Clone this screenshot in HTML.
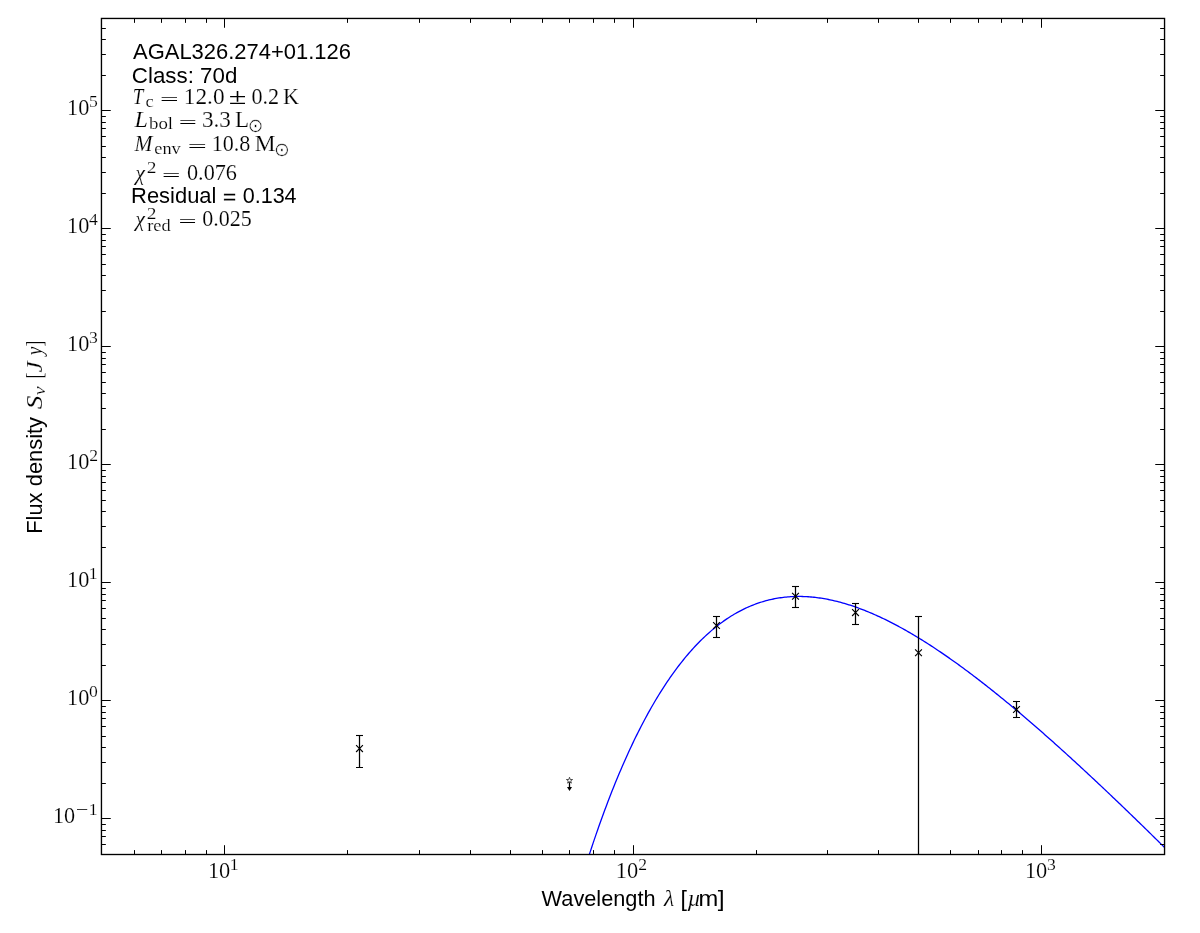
<!DOCTYPE html>
<html lang="en"><head><meta charset="utf-8"><title>AGAL326.274+01.126 SED</title>
<style>
html,body{margin:0;padding:0;background:#fff;}
body{width:1200px;height:933px;overflow:hidden;}
svg{display:block;will-change:transform;}
text{fill:#000;}
.sans{font-family:"Liberation Sans",sans-serif;}
.rm{font-family:"Liberation Serif",serif;}
.it{font-style:italic;}
.sun{font-family:"DejaVu Sans",sans-serif;}
.thin{stroke:#fff;stroke-width:0.16px;}
.bold{stroke:#000;stroke-width:0.35px;}
.thin2{stroke:#fff;stroke-width:0.45px;}
</style></head><body>
<svg width="1200" height="933" viewBox="0 0 1200 933">
<rect width="1200" height="933" fill="#fff"/>

<defs><clipPath id="ax"><rect x="101.45" y="18.45" width="1063.1" height="836.05"/></clipPath></defs>
<g clip-path="url(#ax)">
<path d="M586.00,864.79 L587.45,860.25 L588.90,855.76 L590.36,851.33 L591.81,846.95 L593.26,842.62 L594.71,838.34 L596.16,834.11 L597.62,829.93 L599.07,825.80 L600.52,821.73 L601.97,817.70 L603.42,813.72 L604.87,809.79 L606.33,805.91 L607.78,802.07 L609.23,798.29 L610.68,794.55 L612.13,790.86 L613.59,787.21 L615.04,783.61 L616.49,780.06 L617.94,776.55 L619.39,773.08 L620.85,769.66 L622.30,766.29 L623.75,762.96 L625.20,759.67 L626.65,756.42 L628.10,753.22 L629.56,750.06 L631.01,746.94 L632.46,743.86 L633.91,740.83 L635.36,737.84 L636.82,734.88 L638.27,731.97 L639.72,729.10 L641.17,726.26 L642.62,723.47 L644.08,720.71 L645.53,718.00 L646.98,715.32 L648.43,712.68 L649.88,710.08 L651.33,707.51 L652.79,704.98 L654.24,702.49 L655.69,700.04 L657.14,697.62 L658.59,695.24 L660.05,692.89 L661.50,690.58 L662.95,688.31 L664.40,686.06 L665.85,683.86 L667.31,681.69 L668.76,679.55 L670.21,677.44 L671.66,675.37 L673.11,673.33 L674.56,671.33 L676.02,669.35 L677.47,667.41 L678.92,665.51 L680.37,663.63 L681.82,661.78 L683.28,659.97 L684.73,658.19 L686.18,656.44 L687.63,654.71 L689.08,653.02 L690.54,651.36 L691.99,649.73 L693.44,648.13 L694.89,646.56 L696.34,645.01 L697.79,643.50 L699.25,642.01 L700.70,640.55 L702.15,639.12 L703.60,637.72 L705.05,636.35 L706.51,635.00 L707.96,633.68 L709.41,632.39 L710.86,631.12 L712.31,629.88 L713.77,628.67 L715.22,627.48 L716.67,626.32 L718.12,625.18 L719.57,624.07 L721.02,622.98 L722.48,621.92 L723.93,620.89 L725.38,619.88 L726.83,618.89 L728.28,617.93 L729.74,616.99 L731.19,616.07 L732.64,615.18 L734.09,614.31 L735.54,613.47 L737.00,612.65 L738.45,611.85 L739.90,611.07 L741.35,610.32 L742.80,609.58 L744.25,608.87 L745.71,608.19 L747.16,607.52 L748.61,606.87 L750.06,606.25 L751.51,605.65 L752.97,605.07 L754.42,604.50 L755.87,603.96 L757.32,603.44 L758.77,602.94 L760.23,602.46 L761.68,602.00 L763.13,601.56 L764.58,601.14 L766.03,600.74 L767.48,600.36 L768.94,599.99 L770.39,599.65 L771.84,599.32 L773.29,599.01 L774.74,598.72 L776.20,598.45 L777.65,598.20 L779.10,597.96 L780.55,597.75 L782.00,597.55 L783.46,597.36 L784.91,597.20 L786.36,597.05 L787.81,596.92 L789.26,596.80 L790.72,596.70 L792.17,596.62 L793.62,596.55 L795.07,596.50 L796.52,596.47 L797.97,596.45 L799.43,596.45 L800.88,596.47 L802.33,596.49 L803.78,596.54 L805.23,596.60 L806.69,596.67 L808.14,596.76 L809.59,596.87 L811.04,596.98 L812.49,597.12 L813.95,597.26 L815.40,597.43 L816.85,597.60 L818.30,597.79 L819.75,597.99 L821.20,598.21 L822.66,598.44 L824.11,598.69 L825.56,598.94 L827.01,599.21 L828.46,599.50 L829.92,599.79 L831.37,600.10 L832.82,600.42 L834.27,600.76 L835.72,601.10 L837.18,601.46 L838.63,601.83 L840.08,602.22 L841.53,602.61 L842.98,603.02 L844.43,603.44 L845.89,603.87 L847.34,604.31 L848.79,604.76 L850.24,605.22 L851.69,605.70 L853.15,606.19 L854.60,606.68 L856.05,607.19 L857.50,607.71 L858.95,608.24 L860.41,608.78 L861.86,609.33 L863.31,609.89 L864.76,610.46 L866.21,611.04 L867.66,611.63 L869.12,612.23 L870.57,612.84 L872.02,613.46 L873.47,614.09 L874.92,614.73 L876.38,615.38 L877.83,616.04 L879.28,616.70 L880.73,617.38 L882.18,618.07 L883.64,618.76 L885.09,619.46 L886.54,620.17 L887.99,620.89 L889.44,621.62 L890.89,622.36 L892.35,623.11 L893.80,623.86 L895.25,624.62 L896.70,625.39 L898.15,626.17 L899.61,626.96 L901.06,627.75 L902.51,628.55 L903.96,629.36 L905.41,630.18 L906.87,631.01 L908.32,631.84 L909.77,632.68 L911.22,633.53 L912.67,634.38 L914.12,635.24 L915.58,636.11 L917.03,636.99 L918.48,637.87 L919.93,638.76 L921.38,639.66 L922.84,640.56 L924.29,641.47 L925.74,642.39 L927.19,643.31 L928.64,644.24 L930.10,645.17 L931.55,646.12 L933.00,647.07 L934.45,648.02 L935.90,648.98 L937.35,649.95 L938.81,650.92 L940.26,651.90 L941.71,652.89 L943.16,653.88 L944.61,654.87 L946.07,655.87 L947.52,656.88 L948.97,657.90 L950.42,658.91 L951.87,659.94 L953.33,660.97 L954.78,662.00 L956.23,663.04 L957.68,664.09 L959.13,665.14 L960.58,666.20 L962.04,667.26 L963.49,668.32 L964.94,669.40 L966.39,670.47 L967.84,671.55 L969.30,672.64 L970.75,673.73 L972.20,674.82 L973.65,675.92 L975.10,677.03 L976.56,678.14 L978.01,679.25 L979.46,680.37 L980.91,681.49 L982.36,682.62 L983.82,683.75 L985.27,684.88 L986.72,686.02 L988.17,687.17 L989.62,688.32 L991.07,689.47 L992.53,690.62 L993.98,691.78 L995.43,692.95 L996.88,694.12 L998.33,695.29 L999.79,696.47 L1001.24,697.65 L1002.69,698.83 L1004.14,700.02 L1005.59,701.21 L1007.05,702.40 L1008.50,703.60 L1009.95,704.80 L1011.40,706.01 L1012.85,707.22 L1014.30,708.43 L1015.76,709.65 L1017.21,710.87 L1018.66,712.09 L1020.11,713.31 L1021.56,714.54 L1023.02,715.78 L1024.47,717.01 L1025.92,718.25 L1027.37,719.49 L1028.82,720.74 L1030.28,721.99 L1031.73,723.24 L1033.18,724.50 L1034.63,725.75 L1036.08,727.01 L1037.53,728.28 L1038.99,729.54 L1040.44,730.81 L1041.89,732.09 L1043.34,733.36 L1044.79,734.64 L1046.25,735.92 L1047.70,737.20 L1049.15,738.49 L1050.60,739.78 L1052.05,741.07 L1053.51,742.36 L1054.96,743.66 L1056.41,744.96 L1057.86,746.26 L1059.31,747.57 L1060.76,748.87 L1062.22,750.18 L1063.67,751.50 L1065.12,752.81 L1066.57,754.13 L1068.02,755.45 L1069.48,756.77 L1070.93,758.09 L1072.38,759.42 L1073.83,760.75 L1075.28,762.08 L1076.74,763.41 L1078.19,764.75 L1079.64,766.08 L1081.09,767.42 L1082.54,768.77 L1083.99,770.11 L1085.45,771.46 L1086.90,772.80 L1088.35,774.15 L1089.80,775.51 L1091.25,776.86 L1092.71,778.22 L1094.16,779.58 L1095.61,780.94 L1097.06,782.30 L1098.51,783.66 L1099.97,785.03 L1101.42,786.40 L1102.87,787.77 L1104.32,789.14 L1105.77,790.51 L1107.22,791.89 L1108.68,793.26 L1110.13,794.64 L1111.58,796.02 L1113.03,797.41 L1114.48,798.79 L1115.94,800.18 L1117.39,801.56 L1118.84,802.95 L1120.29,804.34 L1121.74,805.74 L1123.20,807.13 L1124.65,808.53 L1126.10,809.92 L1127.55,811.32 L1129.00,812.72 L1130.45,814.13 L1131.91,815.53 L1133.36,816.94 L1134.81,818.34 L1136.26,819.75 L1137.71,821.16 L1139.17,822.57 L1140.62,823.98 L1142.07,825.40 L1143.52,826.81 L1144.97,828.23 L1146.43,829.65 L1147.88,831.07 L1149.33,832.49 L1150.78,833.91 L1152.23,835.34 L1153.68,836.76 L1155.14,838.19 L1156.59,839.62 L1158.04,841.05 L1159.49,842.48 L1160.94,843.91 L1162.40,845.34 L1163.85,846.78 L1165.30,848.21" fill="none" stroke="#0000ff" stroke-width="1.3" stroke-linejoin="round"/>
<line x1="359.5" y1="735.5" x2="359.5" y2="767.5" stroke="#000" stroke-width="1.25"/>
<line x1="356.0" y1="735.5" x2="363.0" y2="735.5" stroke="#000" stroke-width="1.1"/>
<line x1="356.0" y1="767.5" x2="363.0" y2="767.5" stroke="#000" stroke-width="1.1"/>
<path d="M356.1,745.2 L362.9,752.0 M356.1,752.0 L362.9,745.2" stroke="#000" stroke-width="1.15" fill="none"/>
<line x1="716.5" y1="616.5" x2="716.5" y2="637.5" stroke="#000" stroke-width="1.25"/>
<line x1="713.0" y1="616.5" x2="720.0" y2="616.5" stroke="#000" stroke-width="1.1"/>
<line x1="713.0" y1="637.5" x2="720.0" y2="637.5" stroke="#000" stroke-width="1.1"/>
<path d="M713.1,622.1 L719.9,628.9 M713.1,628.9 L719.9,622.1" stroke="#000" stroke-width="1.15" fill="none"/>
<line x1="795.5" y1="586.5" x2="795.5" y2="607.5" stroke="#000" stroke-width="1.25"/>
<line x1="792.0" y1="586.5" x2="799.0" y2="586.5" stroke="#000" stroke-width="1.1"/>
<line x1="792.0" y1="607.5" x2="799.0" y2="607.5" stroke="#000" stroke-width="1.1"/>
<path d="M792.1,592.9 L798.9,599.6999999999999 M792.1,599.6999999999999 L798.9,592.9" stroke="#000" stroke-width="1.15" fill="none"/>
<line x1="855.5" y1="603.5" x2="855.5" y2="624.5" stroke="#000" stroke-width="1.25"/>
<line x1="852.0" y1="603.5" x2="859.0" y2="603.5" stroke="#000" stroke-width="1.1"/>
<line x1="852.0" y1="624.5" x2="859.0" y2="624.5" stroke="#000" stroke-width="1.1"/>
<path d="M852.1,609.2 L858.9,616.0 M852.1,616.0 L858.9,609.2" stroke="#000" stroke-width="1.15" fill="none"/>
<line x1="918.5" y1="616.5" x2="918.5" y2="900" stroke="#000" stroke-width="1.25"/>
<line x1="915.0" y1="616.5" x2="922.0" y2="616.5" stroke="#000" stroke-width="1.1"/>
<path d="M915.1,649.3000000000001 L921.9,656.1 M915.1,656.1 L921.9,649.3000000000001" stroke="#000" stroke-width="1.15" fill="none"/>
<line x1="1016.5" y1="701.5" x2="1016.5" y2="717.5" stroke="#000" stroke-width="1.25"/>
<line x1="1013.0" y1="701.5" x2="1020.0" y2="701.5" stroke="#000" stroke-width="1.1"/>
<line x1="1013.0" y1="717.5" x2="1020.0" y2="717.5" stroke="#000" stroke-width="1.1"/>
<path d="M1013.1,706.1 L1019.9,712.9 M1013.1,712.9 L1019.9,706.1" stroke="#000" stroke-width="1.15" fill="none"/>
<path d="M569.50,777.25 L570.23,779.50 L572.59,779.50 L570.68,780.88 L571.41,783.13 L569.50,781.74 L567.59,783.13 L568.32,780.88 L566.41,779.50 L568.77,779.50Z" fill="#fff" stroke="#333" stroke-width="0.85"/>
<line x1="569.5" y1="782.3" x2="569.5" y2="787.6" stroke="#000" stroke-width="1.3"/>
<path d="M567.0,786.9 L572.0,786.9 L569.5,790.9Z" fill="#000"/>
</g>
<path d="M101.5,854.5 v-4.4 M101.5,18.45 v4.4 M134.5,854.5 v-4.4 M134.5,18.45 v4.4 M161.5,854.5 v-4.4 M161.5,18.45 v4.4 M185.5,854.5 v-4.4 M185.5,18.45 v4.4 M206.5,854.5 v-4.4 M206.5,18.45 v4.4 M224.5,854.5 v-9.3 M224.5,18.45 v9.3 M347.5,854.5 v-4.4 M347.5,18.45 v4.4 M419.5,854.5 v-4.4 M419.5,18.45 v4.4 M470.5,854.5 v-4.4 M470.5,18.45 v4.4 M510.5,854.5 v-4.4 M510.5,18.45 v4.4 M542.5,854.5 v-4.4 M542.5,18.45 v4.4 M569.5,854.5 v-4.4 M569.5,18.45 v4.4 M593.5,854.5 v-4.4 M593.5,18.45 v4.4 M614.5,854.5 v-4.4 M614.5,18.45 v4.4 M633.5,854.5 v-9.3 M633.5,18.45 v9.3 M756.5,854.5 v-4.4 M756.5,18.45 v4.4 M827.5,854.5 v-4.4 M827.5,18.45 v4.4 M878.5,854.5 v-4.4 M878.5,18.45 v4.4 M918.5,854.5 v-4.4 M918.5,18.45 v4.4 M950.5,854.5 v-4.4 M950.5,18.45 v4.4 M978.5,854.5 v-4.4 M978.5,18.45 v4.4 M1001.5,854.5 v-4.4 M1001.5,18.45 v4.4 M1022.5,854.5 v-4.4 M1022.5,18.45 v4.4 M1041.5,854.5 v-9.3 M1041.5,18.45 v9.3 M1164.5,854.5 v-4.4 M1164.5,18.45 v4.4 M101.45,854.5 h4.4 M1164.55,854.5 h-4.4 M101.45,844.5 h4.4 M1164.55,844.5 h-4.4 M101.45,836.5 h4.4 M1164.55,836.5 h-4.4 M101.45,830.5 h4.4 M1164.55,830.5 h-4.4 M101.45,824.5 h4.4 M1164.55,824.5 h-4.4 M101.45,818.5 h9.3 M1164.55,818.5 h-9.3 M101.45,783.5 h4.4 M1164.55,783.5 h-4.4 M101.45,762.5 h4.4 M1164.55,762.5 h-4.4 M101.45,747.5 h4.4 M1164.55,747.5 h-4.4 M101.45,736.5 h4.4 M1164.55,736.5 h-4.4 M101.45,726.5 h4.4 M1164.55,726.5 h-4.4 M101.45,718.5 h4.4 M1164.55,718.5 h-4.4 M101.45,712.5 h4.4 M1164.55,712.5 h-4.4 M101.45,706.5 h4.4 M1164.55,706.5 h-4.4 M101.45,700.5 h9.3 M1164.55,700.5 h-9.3 M101.45,665.5 h4.4 M1164.55,665.5 h-4.4 M101.45,644.5 h4.4 M1164.55,644.5 h-4.4 M101.45,629.5 h4.4 M1164.55,629.5 h-4.4 M101.45,618.5 h4.4 M1164.55,618.5 h-4.4 M101.45,608.5 h4.4 M1164.55,608.5 h-4.4 M101.45,600.5 h4.4 M1164.55,600.5 h-4.4 M101.45,594.5 h4.4 M1164.55,594.5 h-4.4 M101.45,588.5 h4.4 M1164.55,588.5 h-4.4 M101.45,582.5 h9.3 M1164.55,582.5 h-9.3 M101.45,547.5 h4.4 M1164.55,547.5 h-4.4 M101.45,526.5 h4.4 M1164.55,526.5 h-4.4 M101.45,511.5 h4.4 M1164.55,511.5 h-4.4 M101.45,500.5 h4.4 M1164.55,500.5 h-4.4 M101.45,490.5 h4.4 M1164.55,490.5 h-4.4 M101.45,482.5 h4.4 M1164.55,482.5 h-4.4 M101.45,476.5 h4.4 M1164.55,476.5 h-4.4 M101.45,470.5 h4.4 M1164.55,470.5 h-4.4 M101.45,464.5 h9.3 M1164.55,464.5 h-9.3 M101.45,429.5 h4.4 M1164.55,429.5 h-4.4 M101.45,408.5 h4.4 M1164.55,408.5 h-4.4 M101.45,393.5 h4.4 M1164.55,393.5 h-4.4 M101.45,382.5 h4.4 M1164.55,382.5 h-4.4 M101.45,372.5 h4.4 M1164.55,372.5 h-4.4 M101.45,364.5 h4.4 M1164.55,364.5 h-4.4 M101.45,358.5 h4.4 M1164.55,358.5 h-4.4 M101.45,352.5 h4.4 M1164.55,352.5 h-4.4 M101.45,346.5 h9.3 M1164.55,346.5 h-9.3 M101.45,311.5 h4.4 M1164.55,311.5 h-4.4 M101.45,290.5 h4.4 M1164.55,290.5 h-4.4 M101.45,275.5 h4.4 M1164.55,275.5 h-4.4 M101.45,264.5 h4.4 M1164.55,264.5 h-4.4 M101.45,254.5 h4.4 M1164.55,254.5 h-4.4 M101.45,246.5 h4.4 M1164.55,246.5 h-4.4 M101.45,240.5 h4.4 M1164.55,240.5 h-4.4 M101.45,234.5 h4.4 M1164.55,234.5 h-4.4 M101.45,228.5 h9.3 M1164.55,228.5 h-9.3 M101.45,193.5 h4.4 M1164.55,193.5 h-4.4 M101.45,172.5 h4.4 M1164.55,172.5 h-4.4 M101.45,157.5 h4.4 M1164.55,157.5 h-4.4 M101.45,146.5 h4.4 M1164.55,146.5 h-4.4 M101.45,136.5 h4.4 M1164.55,136.5 h-4.4 M101.45,128.5 h4.4 M1164.55,128.5 h-4.4 M101.45,122.5 h4.4 M1164.55,122.5 h-4.4 M101.45,116.5 h4.4 M1164.55,116.5 h-4.4 M101.45,110.5 h9.3 M1164.55,110.5 h-9.3 M101.45,75.5 h4.4 M1164.55,75.5 h-4.4 M101.45,54.5 h4.4 M1164.55,54.5 h-4.4 M101.45,39.5 h4.4 M1164.55,39.5 h-4.4 M101.45,28.5 h4.4 M1164.55,28.5 h-4.4 M101.45,18.5 h4.4 M1164.55,18.5 h-4.4" stroke="#000" stroke-width="1.0" fill="none"/>
<rect x="101.45" y="18.45" width="1063.1" height="836.05" fill="none" stroke="#000" stroke-width="1.35"/>
<text class="sans" font-size="22.2" transform="translate(133.00 58.80) scale(0.9897 1.0)">AGAL326.274+01.126</text>
<text class="sans" font-size="22.2" transform="translate(131.87 83.00) scale(1.0061 1.0)">Class: 70d</text>
<text class="rm it thin" font-size="22.2" transform="translate(132.82 103.80) scale(0.8571 1.0)">T</text>
<text class="rm thin" font-size="15.8" transform="translate(145.57 106.80) scale(1.1745 1.0)">c</text>
<text class="rm" font-size="22.2" transform="translate(160.07 104.80) scale(1.4892 0.78)">=</text>
<text class="rm thin" font-size="22.2" transform="translate(183.78 103.80) scale(1.0505 1.0)">12.0</text>
<text class="rm" font-size="22.2" transform="translate(228.73 103.80) scale(1.4458 1.0)">±</text>
<text class="rm thin" font-size="22.2" transform="translate(251.45 103.80) scale(0.9971 1.0)">0.2</text>
<text class="rm thin" font-size="22.2" transform="translate(283.07 103.80) scale(1.0033 1.0)">K</text>
<text class="rm it thin" font-size="22.2" transform="translate(134.57 126.60) scale(1.0826 1.0)">L</text>
<text class="rm thin" font-size="15.8" transform="translate(149.00 129.40) scale(1.1925 1.0)">bol</text>
<text class="rm" font-size="22.2" transform="translate(178.87 127.60) scale(1.4458 0.78)">=</text>
<text class="rm thin" font-size="22.2" transform="translate(201.96 126.60) scale(1.0435 1.0)">3.3</text>
<text class="rm thin" font-size="22.2" transform="translate(235.05 126.60) scale(1.0323 1.0)">L</text>
<text class="sun thin2" font-size="18" transform="translate(247.82 131.70) scale(1.0358 1.07)">⊙</text>
<text class="rm it thin" font-size="22.2" transform="translate(134.54 150.60) scale(0.9722 1.0)">M</text>
<text class="rm thin" font-size="15.8" transform="translate(154.28 153.60) scale(1.1596 1.0)">env</text>
<text class="rm" font-size="22.2" transform="translate(187.79 151.60) scale(1.5181 0.78)">=</text>
<text class="rm thin" font-size="22.2" transform="translate(211.63 150.60) scale(0.9965 1.0)">10.8</text>
<text class="rm thin" font-size="22.2" transform="translate(254.84 150.60) scale(1.0541 1.0)">M</text>
<text class="sun thin2" font-size="18" transform="translate(274.05 155.70) scale(1.0484 1.07)">⊙</text>
<text class="rm it thin" font-size="22.2" transform="translate(135.38 179.95) scale(0.9625 0.93)">χ</text>
<text class="rm thin" font-size="15.8" transform="translate(146.73 173.30) scale(1.2308 1.0)">2</text>
<text class="rm" font-size="22.2" transform="translate(162.04 180.60) scale(1.4747 0.78)">=</text>
<text class="rm thin" font-size="22.2" transform="translate(186.95 179.60) scale(1.0021 1.0)">0.076</text>
<text class="sans" font-size="22.2" transform="translate(131.07 202.90) scale(0.9889 1.0)">Residual</text>
<text class="sans bold" font-size="22.2" transform="translate(222.99 202.70) scale(1.0115 0.8)">=</text>
<text class="sans" font-size="22.2" transform="translate(242.65 202.90) scale(0.9722 1.0)">0.134</text>
<text class="rm it thin" font-size="22.2" transform="translate(135.38 226.05) scale(0.9625 0.93)">χ</text>
<text class="rm thin" font-size="15.8" transform="translate(146.73 219.10) scale(1.2308 1.0)">2</text>
<text class="rm thin" font-size="15.8" transform="translate(147.21 231.30) scale(1.1646 1.0)">red</text>
<text class="rm" font-size="22.2" transform="translate(178.57 226.70) scale(1.4458 0.78)">=</text>
<text class="rm thin" font-size="22.2" transform="translate(202.26 225.70) scale(0.9922 1.0)">0.025</text>
<text class="rm thin" font-size="22.2" transform="translate(52.92 823.10) scale(1.0000 1.0)">10</text>
<text class="rm" font-size="16.3" transform="translate(75.69 815.10) scale(1.3508 1.0)">−</text>
<text class="rm thin" font-size="16.3" transform="translate(88.84 815.10) scale(1.0800 1.0)">1</text>
<text class="rm thin" font-size="22.2" transform="translate(67.02 705.10) scale(1.0051 1.0)">10</text>
<text class="rm thin" font-size="16.3" transform="translate(89.11 697.10) scale(1.0800 1.0)">0</text>
<text class="rm thin" font-size="22.2" transform="translate(67.02 587.10) scale(1.0051 1.0)">10</text>
<text class="rm thin" font-size="16.3" transform="translate(88.84 579.10) scale(1.0800 1.0)">1</text>
<text class="rm thin" font-size="22.2" transform="translate(67.02 469.10) scale(1.0051 1.0)">10</text>
<text class="rm thin" font-size="16.3" transform="translate(89.25 461.10) scale(1.0800 1.0)">2</text>
<text class="rm thin" font-size="22.2" transform="translate(67.02 351.10) scale(1.0051 1.0)">10</text>
<text class="rm thin" font-size="16.3" transform="translate(89.05 343.10) scale(1.0800 1.0)">3</text>
<text class="rm thin" font-size="22.2" transform="translate(67.02 233.10) scale(1.0051 1.0)">10</text>
<text class="rm thin" font-size="16.3" transform="translate(89.11 225.10) scale(1.0800 1.0)">4</text>
<text class="rm thin" font-size="22.2" transform="translate(67.02 115.10) scale(1.0051 1.0)">10</text>
<text class="rm thin" font-size="16.3" transform="translate(88.98 107.10) scale(1.0800 1.0)">5</text>
<text class="rm thin" font-size="22.2" transform="translate(207.91 878.00) scale(1.0103 1.0)">10</text>
<text class="rm thin" font-size="16.3" transform="translate(229.84 870.00) scale(1.0800 1.0)">1</text>
<text class="rm thin" font-size="22.2" transform="translate(615.81 878.00) scale(1.0103 1.0)">10</text>
<text class="rm thin" font-size="16.3" transform="translate(638.15 870.00) scale(1.0800 1.0)">2</text>
<text class="rm thin" font-size="22.2" transform="translate(1024.91 878.00) scale(1.0103 1.0)">10</text>
<text class="rm thin" font-size="16.3" transform="translate(1047.05 870.00) scale(1.0800 1.0)">3</text>
<text class="sans" font-size="22.2" transform="translate(541.58 905.80) scale(0.9793 1.0)">Wavelength</text>
<text class="rm it thin" font-size="22.2" transform="translate(663.97 905.80) scale(1.0667 1.0)">λ</text>
<text class="sans" font-size="22.2" transform="translate(680.43 905.80) scale(1.0444 1.0)">[</text>
<text class="rm it thin" font-size="22.2" transform="translate(687.23 905.80) scale(1.0759 1.0)">µ</text>
<text class="sans" font-size="22.2" transform="translate(698.40 905.80) scale(1.0688 1.0)">m</text>
<text class="sans" font-size="22.2" transform="translate(717.86 905.80) scale(1.1111 1.0)">]</text>
<g transform="translate(41.9,532) rotate(-90)">
<text class="sans" font-size="22.2" transform="translate(-1.72 0.00) scale(0.9806 1.0)">Flux</text>
<text class="sans" font-size="22.2" transform="translate(45.74 0.00) scale(0.9859 1.0)">density</text>
<text class="rm it thin" font-size="22.2" transform="translate(122.69 0.00) scale(1.2381 1.0)">S</text>
<text class="rm it thin" font-size="15.8" transform="translate(136.68 3.20) scale(1.2741 1.0)">ν</text>
<text class="rm thin" font-size="22.2" transform="translate(153.13 0.00) scale(0.8400 1.0)">[</text>
<text class="rm it thin" font-size="22.2" transform="translate(159.57 0.00) scale(1.1373 1.0)">J</text>
<text class="rm it thin" font-size="22.2" transform="translate(176.63 0.00) scale(0.8681 1.0)">y</text>
<text class="rm thin" font-size="22.2" transform="translate(185.51 0.00) scale(0.7800 1.0)">]</text>
</g>
</svg></body></html>
